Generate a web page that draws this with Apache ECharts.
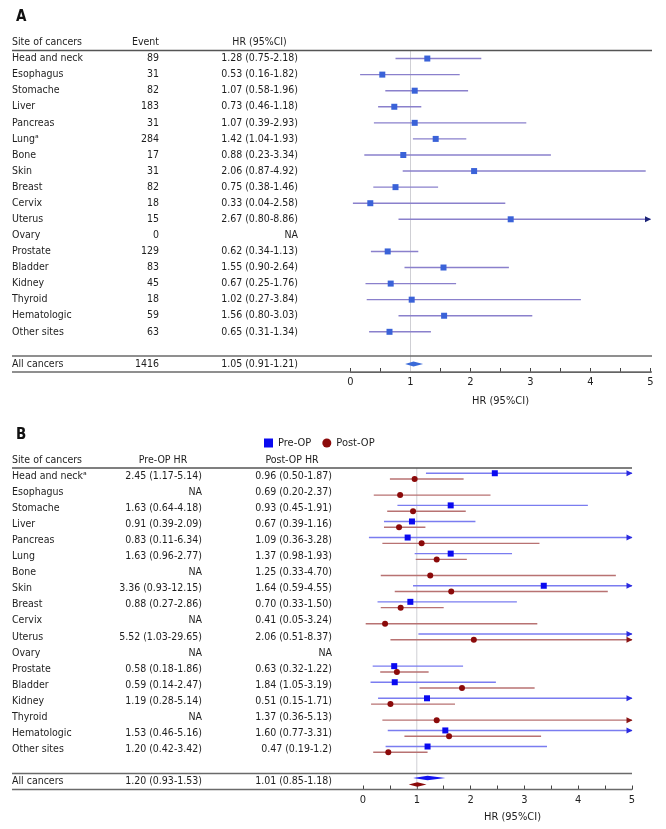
<!DOCTYPE html>
<html><head><meta charset="utf-8">
<script src="https://cdn.jsdelivr.net/npm/echarts@6/dist/echarts.min.js"></script>
<style>html,body{margin:0;padding:0;background:#fff}#c{width:666px;height:829px}</style>
</head><body><div id="c"></div>
<script>
// ---------- Panel A data ----------
const sitesA = ['Head and neck','Esophagus','Stomache','Liver','Pancreas','Lung\u1d43','Bone','Skin','Breast','Cervix','Uterus','Ovary','Prostate','Bladder','Kidney','Thyroid','Hematologic','Other sites'];
const eventsA = [89,31,82,183,31,284,17,31,82,18,15,0,129,83,45,18,59,63];
const hrA = [1.28,0.53,1.07,0.73,1.07,1.42,0.88,2.06,0.75,0.33,2.67,null,0.62,1.55,0.67,1.02,1.56,0.65];
const loA = [0.75,0.16,0.58,0.46,0.39,1.04,0.23,0.87,0.38,0.04,0.80,null,0.34,0.90,0.25,0.27,0.80,0.31];
const hiA = [2.18,1.82,1.96,1.18,2.93,1.93,3.34,4.92,1.46,2.58,8.86,null,1.13,2.64,1.76,3.84,3.03,1.34];
const hrTextA = ['1.28 (0.75-2.18)','0.53 (0.16-1.82)','1.07 (0.58-1.96)','0.73 (0.46-1.18)','1.07 (0.39-2.93)','1.42 (1.04-1.93)','0.88 (0.23-3.34)','2.06 (0.87-4.92)','0.75 (0.38-1.46)','0.33 (0.04-2.58)','2.67 (0.80-8.86)','NA','0.62 (0.34-1.13)','1.55 (0.90-2.64)','0.67 (0.25-1.76)','1.02 (0.27-3.84)','1.56 (0.80-3.03)','0.65 (0.31-1.34)'];
const totalA = {site:'All cancers', events:1416, hr:1.05, lo:0.91, hi:1.21, text:'1.05 (0.91-1.21)'};

// ---------- Panel B data ----------
const sitesB = ['Head and neck\u1d43','Esophagus','Stomache','Liver','Pancreas','Lung','Bone','Skin','Breast','Cervix','Uterus','Ovary','Prostate','Bladder','Kidney','Thyroid','Hematologic','Other sites'];
const preHR = [2.45,null,1.63,0.91,0.83,1.63,null,3.36,0.88,null,5.52,null,0.58,0.59,1.19,null,1.53,1.20];
const preLo = [1.17,null,0.64,0.39,0.11,0.96,null,0.93,0.27,null,1.03,null,0.18,0.14,0.28,null,0.46,0.42];
const preHi = [5.14,null,4.18,2.09,6.34,2.77,null,12.15,2.86,null,29.65,null,1.86,2.47,5.14,null,5.16,3.42];
const postHR = [0.96,0.69,0.93,0.67,1.09,1.37,1.25,1.64,0.70,0.41,2.06,null,0.63,1.84,0.51,1.37,1.60,0.47];
const postLo = [0.50,0.20,0.45,0.39,0.36,0.98,0.33,0.59,0.33,0.05,0.51,null,0.32,1.05,0.15,0.36,0.77,0.19];
const postHi = [1.87,2.37,1.91,1.16,3.28,1.93,4.70,4.55,1.50,3.24,8.37,null,1.22,3.19,1.71,5.13,3.31,1.2];
const preText = ['2.45 (1.17-5.14)','NA','1.63 (0.64-4.18)','0.91 (0.39-2.09)','0.83 (0.11-6.34)','1.63 (0.96-2.77)','NA','3.36 (0.93-12.15)','0.88 (0.27-2.86)','NA','5.52 (1.03-29.65)','NA','0.58 (0.18-1.86)','0.59 (0.14-2.47)','1.19 (0.28-5.14)','NA','1.53 (0.46-5.16)','1.20 (0.42-3.42)'];
const postText = ['0.96 (0.50-1.87)','0.69 (0.20-2.37)','0.93 (0.45-1.91)','0.67 (0.39-1.16)','1.09 (0.36-3.28)','1.37 (0.98-1.93)','1.25 (0.33-4.70)','1.64 (0.59-4.55)','0.70 (0.33-1.50)','0.41 (0.05-3.24)','2.06 (0.51-8.37)','NA','0.63 (0.32-1.22)','1.84 (1.05-3.19)','0.51 (0.15-1.71)','1.37 (0.36-5.13)','1.60 (0.77-3.31)','0.47 (0.19-1.2)'];
const totalB = {site:'All cancers', pre:{hr:1.20, lo:0.93, hi:1.53, text:'1.20 (0.93-1.53)'}, post:{hr:1.01, lo:0.85, hi:1.18, text:'1.01 (0.85-1.18)'}};

const axisTicks = [0,1,2,3,4,5];

// ---------- helpers ----------
const FF = '"DejaVu Sans Condensed", "Liberation Sans", sans-serif';
const FONT = '10.5px ' + FF;
const TXT = '#1e1e1e';
const ROWS = sitesA.length;          // 18
const TOTAL_ROW = ROWS + 1;          // 19
const HEADER_ROW = -1;
const X_MAX = axisTicks[axisTicks.length - 1];

function textSeries(xAxisIndex, yAxisIndex, x, align, rows, texts, font) {
  return {
    type: 'custom', xAxisIndex, yAxisIndex, silent: true, animation: false, clip: false,
    data: rows.map(r => [x, r]),
    renderItem: (params, api) => {
      const p = api.coord([api.value(0), api.value(1)]);
      return { type: 'text', x: p[0], y: p[1],
        style: { text: String(texts[params.dataIndex]), textAlign: align, textVerticalAlign: 'middle', fill: TXT, font: font || FONT } };
    }
  };
}
function hlineSeries(xAxisIndex, yAxisIndex, x1, x2, rows, color, width) {
  return {
    type: 'custom', xAxisIndex, yAxisIndex, silent: true, animation: false, clip: false,
    data: rows.map(r => [r]),
    renderItem: (params, api) => {
      const a = api.coord([x1, api.value(0)]), b = api.coord([x2, api.value(0)]);
      return { type: 'line', shape: { x1: a[0], y1: a[1], x2: b[0], y2: b[1] }, style: { stroke: color, lineWidth: width } };
    }
  };
}
function refSeries(xAxisIndex, yAxisIndex) {
  return {
    type: 'custom', xAxisIndex, yAxisIndex, silent: true, animation: false, clip: false, z: 1,
    data: [[1]],
    renderItem: (params, api) => {
      const a = api.coord([api.value(0), -0.5]), b = api.coord([api.value(0), TOTAL_ROW + 0.5]);
      return { type: 'line', shape: { x1: a[0], y1: a[1], x2: b[0], y2: b[1] }, style: { stroke: '#cfcfd4', lineWidth: 1 } };
    }
  };
}
function forestSeries(name, xAxisIndex, yAxisIndex, hr, lo, hi, o) {
  const data = [];
  hr.forEach((v, i) => { if (v !== null) data.push([i, v, lo[i], hi[i]]); });
  return {
    name, type: 'custom', xAxisIndex, yAxisIndex, silent: true, animation: false, clip: false, z: 3,
    itemStyle: { color: o.marker },
    data,
    renderItem: (params, api) => {
      const row = api.value(0), h = api.value(1), l = api.value(2), u = api.value(3);
      const y = api.coord([0, row])[1] + o.dy;
      const xl = api.coord([l, row])[0];
      const xu = api.coord([Math.min(u, X_MAX), row])[0];
      const ch = [{ type: 'line', shape: { x1: xl, y1: y, x2: xu, y2: y }, style: { stroke: o.line, lineWidth: 1.4 } }];
      if (u > X_MAX) ch.push({ type: 'polygon', shape: { points: [[xu + 0.5, y], [xu - 5.5, y - 3], [xu - 5.5, y + 3]] }, style: { fill: o.arrow } });
      if (h <= X_MAX) {
        const xh = api.coord([h, row])[0];
        if (o.shape === 'circle') ch.push({ type: 'circle', shape: { cx: xh, cy: y, r: o.size / 2 }, style: { fill: o.marker } });
        else ch.push({ type: 'rect', shape: { x: xh - o.size / 2, y: y - o.size / 2, width: o.size, height: o.size }, style: { fill: o.marker } });
      }
      return { type: 'group', children: ch };
    }
  };
}
function diamondSeries(name, xAxisIndex, yAxisIndex, t, color, dy, halfH) {
  return {
    name, type: 'custom', xAxisIndex, yAxisIndex, silent: true, animation: false, clip: false, z: 3,
    itemStyle: { color },
    data: [[TOTAL_ROW, t.hr, t.lo, t.hi]],
    renderItem: (params, api) => {
      const row = api.value(0);
      const y = api.coord([0, row])[1] + dy;
      const xl = api.coord([api.value(2), row])[0], xc = api.coord([api.value(1), row])[0], xu = api.coord([api.value(3), row])[0];
      return { type: 'polygon', shape: { points: [[xl, y], [xc, y - halfH], [xu, y], [xc, y + halfH]] }, style: { fill: color } };
    }
  };
}

const rowIdx = sitesA.map((_, i) => i);
const W = 666;
function hiddenX(grid) { return { gridIndex: grid, type: 'value', min: 0, max: W, show: false }; }
function rowY(grid) { return { gridIndex: grid, type: 'value', min: -0.5, max: TOTAL_ROW + 0.5, inverse: true, show: false }; }
function hrX(grid, nameOffset, nameGap) {
  return {
    gridIndex: grid, type: 'value', min: axisTicks[0], max: X_MAX, interval: 0.5,
    axisLine: { show: true, onZero: false, lineStyle: { color: '#555', width: 1 } },
    axisTick: { show: true, inside: true, length: 4, lineStyle: { color: '#444' } },
    splitLine: { show: false },
    axisLabel: { margin: 5, color: TXT, fontSize: 11, fontFamily: FF,
      formatter: v => axisTicks.indexOf(v) >= 0 ? String(v) : '' },
    name: 'HR (95%CI)', nameLocation: 'middle', nameGap: nameGap,
    nameTextStyle: { color: TXT, fontSize: 11, fontFamily: FF, padding: [0, 0, 0, nameOffset] }
  };
}

const option = {
  animation: false,
  textStyle: { fontFamily: FF },
  title: [
    { text: 'A', left: 11, top: 5, textStyle: { fontSize: 15, fontWeight: 'bold', color: '#111', fontFamily: FF } },
    { text: 'B', left: 11, top: 423, textStyle: { fontSize: 15, fontWeight: 'bold', color: '#111', fontFamily: FF } }
  ],
  legend: {
    left: 264, top: 437.5, padding: 0, itemWidth: 9, itemHeight: 9, itemGap: 11, selectedMode: false,
    textStyle: { fontSize: 11, color: TXT, fontFamily: FF, padding: [0, 0, 0, 0] },
    data: [{ name: 'Pre-OP', icon: 'rect', itemStyle: { color: '#0a0af0' } },
           { name: 'Post-OP', icon: 'circle', itemStyle: { color: '#8b0a0a' } }]
  },
  grid: [
    { left: 0, width: W, top: 50.5, height: 321.5 },
    { left: 350.5, width: 300, top: 50.5, height: 321.5 },
    { left: 0, width: W, top: 468, height: 321.5 },
    { left: 363, width: 269, top: 468, height: 321.5 }
  ],
  xAxis: [hiddenX(0), hrX(1, 0, 24), hiddenX(2), hrX(3, 30, 22)],
  yAxis: [rowY(0), rowY(1), rowY(2), rowY(3)],
  series: [
    // ---- Panel A table ----
    textSeries(0, 0, 12, 'left', [HEADER_ROW], ['Site of cancers']),
    textSeries(0, 0, 159, 'right', [HEADER_ROW], ['Event']),
    textSeries(0, 0, 259.5, 'center', [HEADER_ROW], ['HR (95%CI)']),
    textSeries(0, 0, 12, 'left', rowIdx.concat([TOTAL_ROW]), sitesA.concat([totalA.site])),
    textSeries(0, 0, 159, 'right', rowIdx.concat([TOTAL_ROW]), eventsA.concat([totalA.events])),
    textSeries(0, 0, 298, 'right', rowIdx.concat([TOTAL_ROW]), hrTextA.concat([totalA.text])),
    hlineSeries(0, 0, 12, 652, [-0.5], '#555', 1.5),
    hlineSeries(0, 0, 12, 652, [TOTAL_ROW - 0.5, TOTAL_ROW + 0.5], '#6a6a6a', 1.5),
    // ---- Panel A plot ----
    refSeries(1, 1),
    forestSeries('A', 1, 1, hrA, loA, hiA, { dy: 0, line: '#8a80cc', arrow: '#1c2478', marker: '#3a62d8', shape: 'rect', size: 6 }),
    diamondSeries('Aall', 1, 1, totalA, '#3a6ad8', 0, 2.5),
    // ---- Panel B table ----
    textSeries(2, 2, 12, 'left', [HEADER_ROW], ['Site of cancers']),
    textSeries(2, 2, 163, 'center', [HEADER_ROW], ['Pre-OP HR']),
    textSeries(2, 2, 292, 'center', [HEADER_ROW], ['Post-OP HR']),
    textSeries(2, 2, 12, 'left', rowIdx.concat([TOTAL_ROW]), sitesB.concat([totalB.site])),
    textSeries(2, 2, 202, 'right', rowIdx.concat([TOTAL_ROW]), preText.concat([totalB.pre.text])),
    textSeries(2, 2, 332, 'right', rowIdx.concat([TOTAL_ROW]), postText.concat([totalB.post.text])),
    hlineSeries(2, 2, 12, 632, [-0.5], '#555', 1.5),
    hlineSeries(2, 2, 12, 632, [TOTAL_ROW - 0.5, TOTAL_ROW + 0.5], '#6a6a6a', 1.5),
    // ---- Panel B plot ----
    refSeries(3, 3),
    forestSeries('Pre-OP', 3, 3, preHR, preLo, preHi, { dy: -2.8, line: '#7a7cf0', arrow: '#2a2ae0', marker: '#0a0af0', shape: 'rect', size: 6 }),
    forestSeries('Post-OP', 3, 3, postHR, postLo, postHi, { dy: 3, line: '#b87272', arrow: '#8b1414', marker: '#8b0a0a', shape: 'circle', size: 6 }),
    diamondSeries('Pre-OP', 3, 3, totalB.pre, '#1414f0', -3.5, 2.3),
    diamondSeries('Post-OP', 3, 3, totalB.post, '#8b0a0a', 3, 2.3)
  ]
};
echarts.init(document.getElementById('c'), null, { renderer: 'canvas' }).setOption(option);
</script>
</body></html>
